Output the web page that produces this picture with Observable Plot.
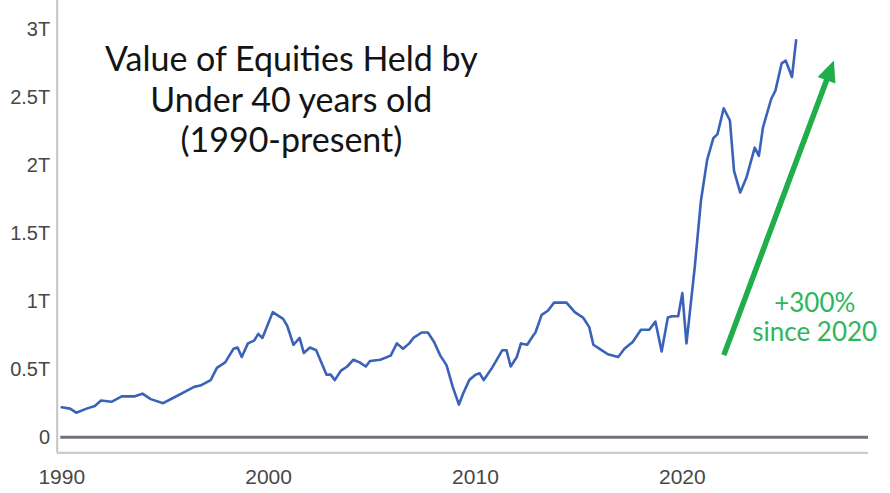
<!DOCTYPE html>
<html>
<head>
<meta charset="utf-8">
<script src="https://cdn.jsdelivr.net/npm/d3@7"></script>
<script src="https://cdn.jsdelivr.net/npm/@observablehq/plot@0.6"></script>
<style>
  html, body { margin: 0; padding: 0; background: #fff; }
  #chart { width: 890px; height: 493px; }
</style>
</head>
<body>
<div id="chart"></div>
<script>
// ---- data (decimal year, value in trillions USD) ----
const years = [
  1990.0, 1990.4, 1990.7, 1991.2, 1991.6, 1991.9, 1992.4, 1992.9, 1993.5, 1993.9,
  1994.3, 1994.9, 1995.4, 1995.9, 1996.4, 1996.7, 1997.2, 1997.5, 1997.9, 1998.3,
  1998.5, 1998.7, 1999.0, 1999.3, 1999.5, 1999.7, 2000.2, 2000.7, 2000.9, 2001.2,
  2001.5, 2001.7, 2002.0, 2002.3, 2002.8, 2003.0, 2003.2, 2003.5, 2003.8, 2004.1,
  2004.4, 2004.7, 2004.9, 2005.4, 2005.9, 2006.2, 2006.5, 2006.8, 2007.0, 2007.4,
  2007.7, 2008.0, 2008.3, 2008.6, 2008.9, 2009.2, 2009.4, 2009.7, 2010.0, 2010.2,
  2010.4, 2010.8, 2011.3, 2011.5, 2011.7, 2012.0, 2012.2, 2012.5, 2012.8, 2012.9,
  2013.2, 2013.5, 2013.8, 2014.4, 2014.8, 2015.2, 2015.5, 2015.7, 2016.0, 2016.4,
  2016.9, 2017.2, 2017.6, 2018.0, 2018.4, 2018.7, 2019.0, 2019.3, 2019.5, 2019.8,
  2020.0, 2020.2, 2020.6, 2020.9, 2021.2, 2021.5, 2021.7, 2022.0, 2022.3, 2022.5,
  2022.8, 2023.1, 2023.5, 2023.7, 2023.9, 2024.3, 2024.5, 2024.8, 2025.0, 2025.3,
  2025.5
];
const values = [
  0.22, 0.21, 0.18, 0.21, 0.23, 0.27, 0.26, 0.30, 0.30, 0.32,
  0.28, 0.25, 0.29, 0.33, 0.37, 0.38, 0.42, 0.51, 0.55, 0.65,
  0.66, 0.59, 0.69, 0.71, 0.76, 0.73, 0.92, 0.87, 0.82, 0.68,
  0.73, 0.62, 0.66, 0.64, 0.46, 0.46, 0.42, 0.49, 0.52, 0.57,
  0.55, 0.52, 0.56, 0.57, 0.60, 0.69, 0.65, 0.69, 0.73, 0.77,
  0.77, 0.70, 0.60, 0.53, 0.37, 0.24, 0.32, 0.42, 0.46, 0.47,
  0.42, 0.51, 0.64, 0.64, 0.52, 0.59, 0.69, 0.68, 0.75, 0.77,
  0.90, 0.93, 0.99, 0.99, 0.92, 0.88, 0.81, 0.68, 0.65, 0.61,
  0.59, 0.65, 0.70, 0.79, 0.79, 0.85, 0.63, 0.88, 0.89, 0.89,
  1.06, 0.69, 1.25, 1.74, 2.04, 2.20, 2.23, 2.42, 2.33, 1.96,
  1.80, 1.91, 2.13, 2.07, 2.28, 2.49, 2.55, 2.75, 2.77, 2.65,
  2.92
];

const xTicks = [1990, 2000, 2010, 2020];
const yTicks = [0, 0.5, 1, 1.5, 2, 2.5, 3];
const yTickLabels = ["0", "0.5T", "1T", "1.5T", "2T", "2.5T", "3T"];

const xDomain = [1989.78, 2029];
const yDomain = [-0.115, 3.213];

const titleLines = ["Value of Equities Held by", "Under 40 years old", "(1990-present)"];
const titlePos = {x: 2001.1, y: 2.49};

const annotationLines = ["+300%", "since 2020"];
const annotationPos = {x: 2026.4, y: 0.883};

const arrowFrom = {x: 2022.03, y: 0.60};
const arrowTo = {x: 2027.35, y: 2.767};

// ---- build ----
const series = years.map((y, i) => ({year: y, value: values[i]}));
const GREEN = "#1fae4a";
const GREEN_TEXT = "#2db65c";

const arrowMark = Plot.link([{x1: arrowFrom.x, y1: arrowFrom.y, x2: arrowTo.x, y2: arrowTo.y}], {
  x1: "x1", y1: "y1", x2: "x2", y2: "y2",
  stroke: GREEN,
  render(index, scales, vals) {
    const g = d3.create("svg:g");
    for (const i of index) {
      const ax = vals.x1[i], ay = vals.y1[i], bx = vals.x2[i], by = vals.y2[i];
      const len = Math.hypot(bx - ax, by - ay);
      const ux = (bx - ax) / len, uy = (by - ay) / len;
      const px = -uy, py = ux;
      const hl = 21, hw = 9.5;
      const cx = bx - ux * hl, cy = by - uy * hl;
      g.append("line")
        .attr("x1", ax).attr("y1", ay)
        .attr("x2", cx + ux * 2).attr("y2", cy + uy * 2)
        .attr("stroke", GREEN).attr("stroke-width", 5.5);
      g.append("polygon")
        .attr("points", `${bx},${by} ${cx + px * hw},${cy + py * hw} ${cx - px * hw},${cy - py * hw}`)
        .attr("fill", GREEN);
    }
    return g.node();
  }
});

const chart = Plot.plot({
  width: 890,
  height: 493,
  marginLeft: 56.7,
  marginRight: 22,
  marginTop: 0,
  marginBottom: 40.7,
  style: {fontFamily: "'Liberation Sans', Arial, sans-serif", background: "#fff", overflow: "visible"},
  x: {domain: xDomain, label: null},
  y: {domain: yDomain, label: null},
  marks: [
    // left axis line
    Plot.ruleX([xDomain[0]], {y1: yDomain[0], y2: yDomain[1], stroke: "#c4c4c8", strokeWidth: 2}),
    // bottom axis line
    Plot.ruleY([yDomain[0]], {x1: xDomain[0], x2: xDomain[1], stroke: "#cbcbce", strokeWidth: 2.2}),
    // zero line
    Plot.ruleY([0], {x1: 1989.95, x2: xDomain[1], stroke: "#6e727b", strokeWidth: 3}),
    Plot.axisY({
      ticks: yTicks,
      tickFormat: (d) => yTickLabels[yTicks.indexOf(d)],
      tickSize: 0, tickPadding: 7,
      fontSize: 20, fill: "#474747", label: null
    }),
    Plot.axisX({
      ticks: xTicks,
      tickFormat: (d) => String(d),
      tickSize: 0, tickPadding: 16,
      fontSize: 21, fill: "#474747", label: null
    }),
    Plot.line(series, {x: "year", y: "value", stroke: "#3a62b9", strokeWidth: 2.6, strokeLinejoin: "round", curve: "linear"}),
    arrowMark,
    Plot.text([titleLines.join("\n")], {
      x: titlePos.x, y: titlePos.y, text: (d) => d,
      fontFamily: "Lato, 'Open Sans', sans-serif", fontSize: 34, lineHeight: 1.19,
      fill: "#141414", textAnchor: "middle", lineAnchor: "middle"
    }),
    Plot.text([annotationLines.join("\n")], {
      x: annotationPos.x, y: annotationPos.y, text: (d) => d,
      fontFamily: "Lato, 'Open Sans', sans-serif", fontSize: 26, lineHeight: 1.12,
      fill: GREEN_TEXT, textAnchor: "middle", lineAnchor: "middle"
    })
  ]
});

document.getElementById("chart").appendChild(chart);
</script>
</body>
</html>
